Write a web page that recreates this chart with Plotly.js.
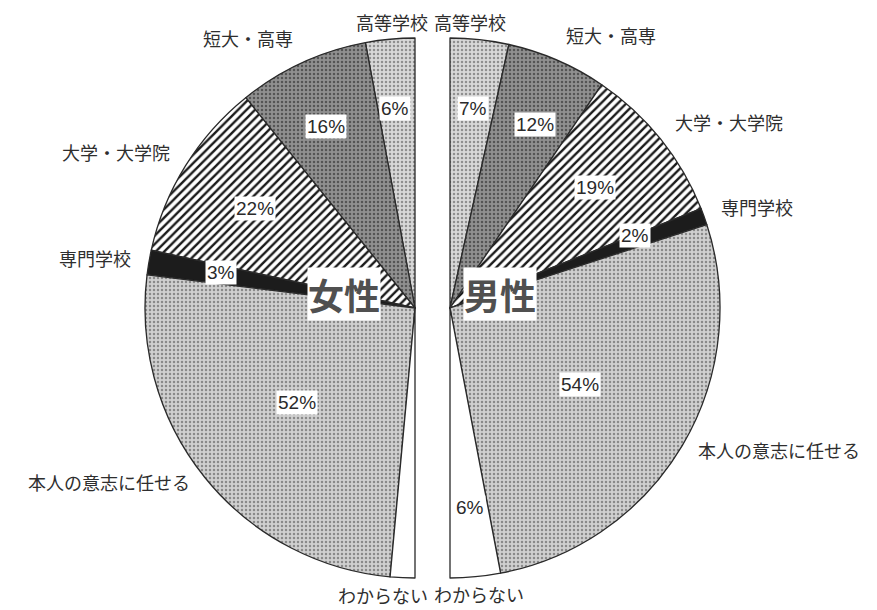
<!DOCTYPE html>
<html>
<head>
<meta charset="utf-8">
<script src="https://cdn.plot.ly/plotly-3.0.1.min.js"></script>
<style>html,body{margin:0;padding:0;background:#fff;}#chart{width:877px;height:610px;}</style>
</head>
<body>
<div id="chart"></div>
<script>
// ---- data ----
const categories = ['高等学校', '短大・高専', '大学・大学院', '専門学校', '本人の意志に任せる', 'わからない'];
const femaleValues = [6, 16, 22, 3, 52, 3];   // わからない (unlabelled)
const maleValues = [7, 12, 19, 2, 54, 6];
const femalePctLabels = ['6%', '16%', '22%', '3%', '52%', ''];
const malePctLabels = ['7%', '12%', '19%', '2%', '54%', '6%'];
const groupNames = ['女性', '男性'];

// ---- geometry / style ----
const W = 877, H = 610, R = 270;
const CL = {x: 415, y: 308}, CR = {x: 450, y: 308};
const JP = '"Noto Sans CJK JP", "Noto Sans", sans-serif';
const NUM = '"Liberation Sans Narrow", "Liberation Sans", Arial, sans-serif';

const sliceStyle = [
  {shape: '.', bg: '#d8d8d8', fg: '#8f8f8f', size: 4, sol: 0.3},    // 高等学校
  {shape: '.', bg: '#909090', fg: '#555555', size: 4, sol: 0.3},    // 短大・高専
  {shape: '/', bg: '#ffffff', fg: '#1a1a1a', size: 6, sol: 0.4},    // 大学・大学院
  {shape: '',  bg: '#1c1c1c', fg: '#1c1c1c', size: 4, sol: 0.3},    // 専門学校
  {shape: '.', bg: '#d0d0d0', fg: '#8a8a8a', size: 4, sol: 0.3},    // 本人の意志に任せる
  {shape: '',  bg: '#ffffff', fg: '#ffffff', size: 4, sol: 0.3}     // わからない
];
const hidden = {shape: '', bg: 'rgba(0,0,0,0)', fg: 'rgba(0,0,0,0)', size: 4, sol: 0.3};

// Each group is a half pie: the visible slices fill 180° and a transparent slice fills the other half.
// Counterclockwise pies in Plotly place the FIRST slice clockwise of 12 o'clock, so for the left
// (counterclockwise) half the transparent slice goes first; for the right half it goes last.
function makePie(values, center, direction, name) {
  const total = values.reduce((a, b) => a + b, 0);
  const ccw = direction === 'counterclockwise';
  const labels = ccw ? ['_hidden'].concat(categories) : categories.concat(['_hidden']);
  const vals = ccw ? [total].concat(values) : values.concat([total]);
  const st = ccw ? [hidden].concat(sliceStyle) : sliceStyle.concat([hidden]);
  return {
    type: 'pie',
    name: name,
    labels: labels,
    values: vals,
    sort: false,
    direction: direction,
    rotation: 0,
    textinfo: 'none',
    hoverinfo: 'label+value',
    showlegend: false,
    domain: {
      x: [(center.x - R) / W, (center.x + R) / W],
      y: [(H - center.y - R) / H, (H - center.y + R) / H]
    },
    marker: {
      colors: st.map(s => s.bg),
      line: {color: '#2a2a2a', width: st.map(s => s === hidden ? 0 : 1.3)},
      pattern: {
        shape: st.map(s => s.shape),
        bgcolor: st.map(s => s.bg),
        fgcolor: st.map(s => s.fg),
        size: st.map(s => s.size),
        solidity: st.map(s => s.sol),
        fillmode: 'replace'
      }
    }
  };
}

const annotations = [];
function px2paper(x, y) { return {x: x / W, y: 1 - y / H}; }

function addLabels(values, pctLabels, center, sign) {
  const total = values.reduce((a, b) => a + b, 0);
  let cum = 0;
  values.forEach((v, i) => {
    const a0 = cum / total * Math.PI; cum += v; const a1 = cum / total * Math.PI;
    const mid = (a0 + a1) / 2;
    // percentage label
    if (pctLabels[i]) {
      const rp = (v / total > 0.4 ? 0.56 : 0.79) * R;
      const p = px2paper(center.x + sign * rp * Math.sin(mid), center.y - rp * Math.cos(mid));
      annotations.push({
        xref: 'paper', yref: 'paper', x: p.x, y: p.y, text: pctLabels[i], showarrow: false,
        font: {family: NUM, size: 19, color: '#2a2a2a'}, bgcolor: '#ffffff', borderpad: 1
      });
    }
    // category label
    const rc = 1.06 * R;
    let cx = center.x + sign * rc * Math.sin(mid);
    let cy = center.y - (Math.cos(mid) > 0 ? 1.1 : 1.03) * R * Math.cos(mid);
    let xanchor = sign > 0 ? 'left' : 'right';
    if (Math.sin(mid) < 0.25) {
      cx = center.x + (sign > 0 ? -18 : 15);
      cy = center.y - 1.065 * R * Math.cos(mid);
    }
    const q = px2paper(cx, cy);
    annotations.push({
      xref: 'paper', yref: 'paper', x: q.x, y: q.y, xanchor: xanchor, yanchor: 'middle',
      text: categories[i], showarrow: false,
      font: {family: JP, size: 18, color: '#2e2e2e'}
    });
  });
}

addLabels(femaleValues, femalePctLabels, CL, -1);
addLabels(maleValues, malePctLabels, CR, 1);

// group names
[[groupNames[0], CL.x - 71], [groupNames[1], CR.x + 50]].forEach(([t, x]) => {
  const p = px2paper(x, 294);
  annotations.push({
    xref: 'paper', yref: 'paper', x: p.x, y: p.y, text: '<b>' + t + '</b>', showarrow: false,
    font: {family: JP, size: 36, color: '#505050'}, bgcolor: '#ffffff', borderpad: 0
  });
});

const data = [
  makePie(femaleValues, CL, 'counterclockwise', groupNames[0]),
  makePie(maleValues, CR, 'clockwise', groupNames[1])
];

const layout = {
  width: W, height: H,
  margin: {l: 0, r: 0, t: 0, b: 0},
  paper_bgcolor: '#ffffff',
  plot_bgcolor: '#ffffff',
  showlegend: false,
  annotations: annotations
};

Plotly.newPlot('chart', data, layout, {displayModeBar: false, staticPlot: true});
</script>
</body>
</html>
